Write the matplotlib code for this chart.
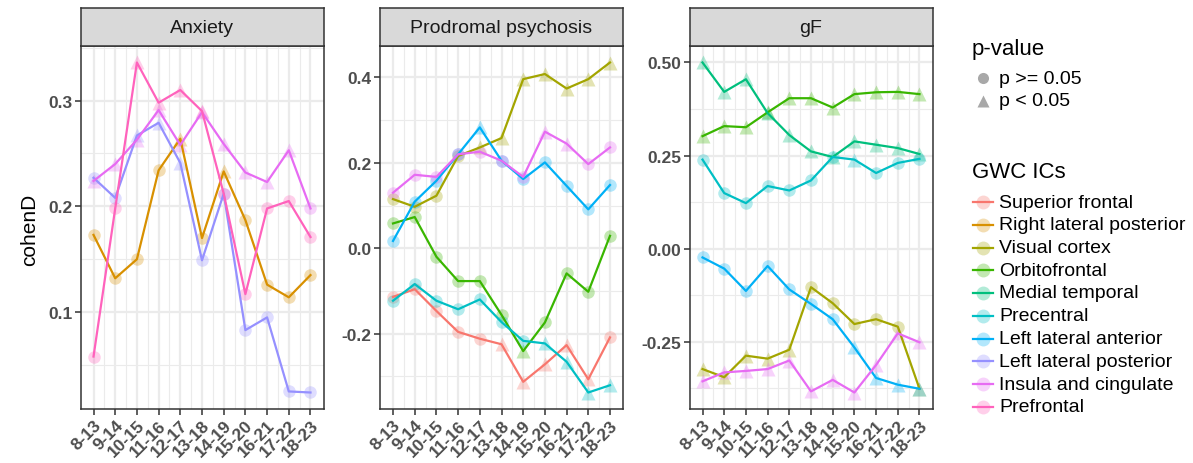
import matplotlib.pyplot as plt
from matplotlib.lines import Line2D
from matplotlib.ticker import MultipleLocator

plt.rcParams['font.family'] = ['Liberation Sans', 'DejaVu Sans']

ages = ['8-13', '9-14', '10-15', '11-16', '12-17', '13-18', '14-19', '15-20', '16-21', '17-22', '18-23']

ics = ['Superior frontal', 'Right lateral posterior', 'Visual cortex', 'Orbitofrontal',
       'Medial temporal', 'Precentral', 'Left lateral anterior', 'Left lateral posterior',
       'Insula and cingulate', 'Prefrontal']
ic_colors = ['#F8766D', '#D89000', '#A3A500', '#39B600', '#00BF7D',
             '#00BFC4', '#00B0F6', '#9590FF', '#E76BF3', '#FF62BC']

# cohen's d per phenotype and IC; sig = 1 where p < 0.05
anx_rlp = [0.173, 0.132, 0.150, 0.234, 0.264, 0.170, 0.233, 0.187, 0.126, 0.114, 0.135]
anx_rlp_sig = [0, 0, 0, 0, 1, 0, 1, 0, 0, 0, 0]
anx_llp = [0.227, 0.208, 0.267, 0.279, 0.241, 0.149, 0.212, 0.083, 0.095, 0.025, 0.024]
anx_llp_sig = [0, 0, 1, 1, 1, 0, 0, 0, 0, 0, 0]
anx_ins = [0.224, 0.240, 0.263, 0.291, 0.258, 0.289, 0.259, 0.232, 0.223, 0.253, 0.198]
anx_ins_sig = [1, 1, 1, 1, 1, 1, 1, 1, 1, 1, 0]
anx_pf = [0.058, 0.198, 0.336, 0.298, 0.310, 0.290, 0.212, 0.117, 0.198, 0.205, 0.171]
anx_pf_sig = [0, 0, 1, 1, 1, 1, 0, 0, 0, 0, 0]

pro_sf = [-0.114, -0.096, -0.147, -0.196, -0.212, -0.225, -0.313, -0.272, -0.227, -0.307, -0.209]
pro_sf_sig = [0, 0, 0, 0, 0, 1, 1, 1, 1, 1, 0]
pro_vc = [0.115, 0.097, 0.123, 0.216, 0.236, 0.258, 0.396, 0.408, 0.374, 0.396, 0.435]
pro_vc_sig = [0, 0, 0, 0, 1, 1, 1, 1, 1, 1, 1]
pro_of = [0.058, 0.073, -0.020, -0.077, -0.077, -0.156, -0.241, -0.174, -0.059, -0.102, 0.029]
pro_of_sig = [0, 0, 0, 0, 0, 0, 1, 0, 0, 0, 0]
pro_pc = [-0.123, -0.084, -0.123, -0.143, -0.120, -0.173, -0.217, -0.223, -0.266, -0.338, -0.321]
pro_pc_sig = [0, 0, 0, 0, 0, 0, 0, 1, 1, 1, 1]
pro_lla = [0.017, 0.109, 0.158, 0.220, 0.283, 0.205, 0.162, 0.201, 0.146, 0.091, 0.148]
pro_lla_sig = [0, 0, 0, 0, 1, 0, 0, 0, 0, 0, 0]
pro_ins = [0.130, 0.172, 0.167, 0.220, 0.226, 0.205, 0.167, 0.273, 0.245, 0.197, 0.236]
pro_ins_sig = [0, 0, 0, 0, 0, 0, 0, 1, 1, 0, 0]

gf_vc = [-0.324, -0.346, -0.288, -0.296, -0.272, -0.104, -0.147, -0.203, -0.190, -0.210, -0.377]
gf_vc_sig = [1, 1, 1, 1, 1, 0, 0, 0, 0, 0, 1]
gf_of = [0.302, 0.329, 0.326, 0.366, 0.404, 0.404, 0.379, 0.415, 0.420, 0.421, 0.415]
gf_of_sig = [1] * 11
gf_mt = [0.500, 0.421, 0.455, 0.364, 0.305, 0.261, 0.246, 0.288, 0.279, 0.270, 0.254]
gf_mt_sig = [1] * 11
gf_pc = [0.239, 0.149, 0.122, 0.168, 0.156, 0.183, 0.246, 0.239, 0.203, 0.230, 0.241]
gf_pc_sig = [0, 0, 0, 0, 0, 0, 0, 1, 0, 0, 0]
gf_lla = [-0.024, -0.054, -0.114, -0.047, -0.110, -0.149, -0.190, -0.266, -0.348, -0.366, -0.377]
gf_lla_sig = [0, 0, 0, 0, 0, 0, 0, 1, 1, 1, 1]
gf_ins = [-0.357, -0.333, -0.329, -0.324, -0.301, -0.384, -0.353, -0.387, -0.313, -0.228, -0.252]
gf_ins_sig = [1] * 11

panels = [
    ('Anxiety', [('Right lateral posterior', anx_rlp, anx_rlp_sig),
                 ('Left lateral posterior', anx_llp, anx_llp_sig),
                 ('Insula and cingulate', anx_ins, anx_ins_sig),
                 ('Prefrontal', anx_pf, anx_pf_sig)], 0.1),
    ('Prodromal psychosis', [('Superior frontal', pro_sf, pro_sf_sig),
                             ('Visual cortex', pro_vc, pro_vc_sig),
                             ('Orbitofrontal', pro_of, pro_of_sig),
                             ('Precentral', pro_pc, pro_pc_sig),
                             ('Left lateral anterior', pro_lla, pro_lla_sig),
                             ('Insula and cingulate', pro_ins, pro_ins_sig)], 0.2),
    ('gF', [('Visual cortex', gf_vc, gf_vc_sig),
            ('Orbitofrontal', gf_of, gf_of_sig),
            ('Medial temporal', gf_mt, gf_mt_sig),
            ('Precentral', gf_pc, gf_pc_sig),
            ('Left lateral anterior', gf_lla, gf_lla_sig),
            ('Insula and cingulate', gf_ins, gf_ins_sig)], 0.25),
]

W, H = 1193, 464
fig = plt.figure(figsize=(W / 100, H / 100), dpi=100)

lefts = [80.5, 380, 689.5]
pw = 243
top, bottom = 47, 410
strip_top = 8.5

x = list(range(len(ages)))
tick_fmt = ['{:.1f}', '{:.1f}', '{:.2f}']

for (title, series, step), left, fmt in zip(panels, lefts, tick_fmt):
    ax = fig.add_axes([left / W, 1 - bottom / H, pw / W, (bottom - top) / H])
    ax.set_facecolor('white')
    for name, vals, sig in series:
        c = ic_colors[ics.index(name)]
        for xi, v, s in zip(x, vals, sig):
            ax.plot(xi, v, marker='^' if s else 'o', ms=9.5 if s else 9,
                    color=c, alpha=0.3, mec='none', zorder=3)
        ax.plot(x, vals, color=c, lw=1.6, zorder=4)

    allv = [v for _, vals, _ in series for v in vals]
    lo, hi = min(allv), max(allv)
    pad = (hi - lo) * 0.05
    ax.set_ylim(lo - pad, hi + pad)
    ax.set_xlim(-0.6, len(ages) - 0.4)

    ax.yaxis.set_major_locator(MultipleLocator(step))
    ax.yaxis.set_minor_locator(MultipleLocator(step / 2))
    ax.set_xticks(x)
    ax.set_xticks([i + 0.5 for i in x[:-1]], minor=True)
    ax.set_xticklabels(ages, rotation=45, ha='right', rotation_mode='anchor',
                       fontsize=12.5, fontweight='bold', color='#4D4D4D')
    ax.yaxis.set_major_formatter(plt.FuncFormatter(lambda v, p, f=fmt: f.format(v)))
    for lab in ax.get_yticklabels():
        lab.set_fontsize(12.5)
        lab.set_fontweight('bold')
        lab.set_color('#4D4D4D')

    ax.grid(which='major', color='#EBEBEB', lw=1.6, zorder=0)
    ax.grid(which='minor', color='#EBEBEB', lw=0.8, zorder=0)
    ax.set_axisbelow(True)
    ax.tick_params(which='major', length=4, width=1.1, color='#333333', pad=2)
    ax.tick_params(which='minor', length=0)
    for sp in ax.spines.values():
        sp.set_color('#333333')
        sp.set_linewidth(1.1)

    # facet strip
    sax = fig.add_axes([left / W, 1 - top / H, pw / W, (top - strip_top) / H])
    sax.set_xticks([])
    sax.set_yticks([])
    sax.set_facecolor('#D9D9D9')
    for sp in sax.spines.values():
        sp.set_color('#333333')
        sp.set_linewidth(1.1)
    sax.text(0.5, 0.48, title, ha='center', va='center', fontsize=14, color='#1A1A1A',
             transform=sax.transAxes)

fig.text(30 / W, 1 - 230 / H, 'cohenD', rotation=90, ha='center', va='center', fontsize=15)


def fx(px):
    return px / W


def fy(py):
    return 1 - py / H


# legends, drawn in figure pixels
key_x, txt_x = 983, 999

fig.text(fx(972), fy(50), 'p-value', ha='left', va='center', fontsize=16)
for i, (mk, lab) in enumerate([('o', 'p >= 0.05'), ('^', 'p < 0.05')]):
    yy = 79 + i * 23
    fig.add_artist(Line2D([fx(key_x)], [fy(yy)], ls='none', marker=mk,
                          ms=8 if mk == 'o' else 9, color='#A8A8A8', mec='none',
                          transform=fig.transFigure))
    fig.text(fx(txt_x), fy(yy), lab, ha='left', va='center', fontsize=14)

fig.text(fx(972), fy(173), 'GWC ICs', ha='left', va='center', fontsize=16)
for i, (name, c) in enumerate(zip(ics, ic_colors)):
    yy = 203 + i * 22.75
    fig.add_artist(Line2D([fx(key_x)], [fy(yy)], ls='none', marker='o', ms=10,
                          color=c, alpha=0.3, mec='none', transform=fig.transFigure))
    fig.add_artist(Line2D([fx(973), fx(993)], [fy(yy), fy(yy)], color=c, lw=1.6,
                          transform=fig.transFigure))
    fig.text(fx(txt_x), fy(yy), name, ha='left', va='center', fontsize=14)

fig.savefig('out.png', dpi=100)
